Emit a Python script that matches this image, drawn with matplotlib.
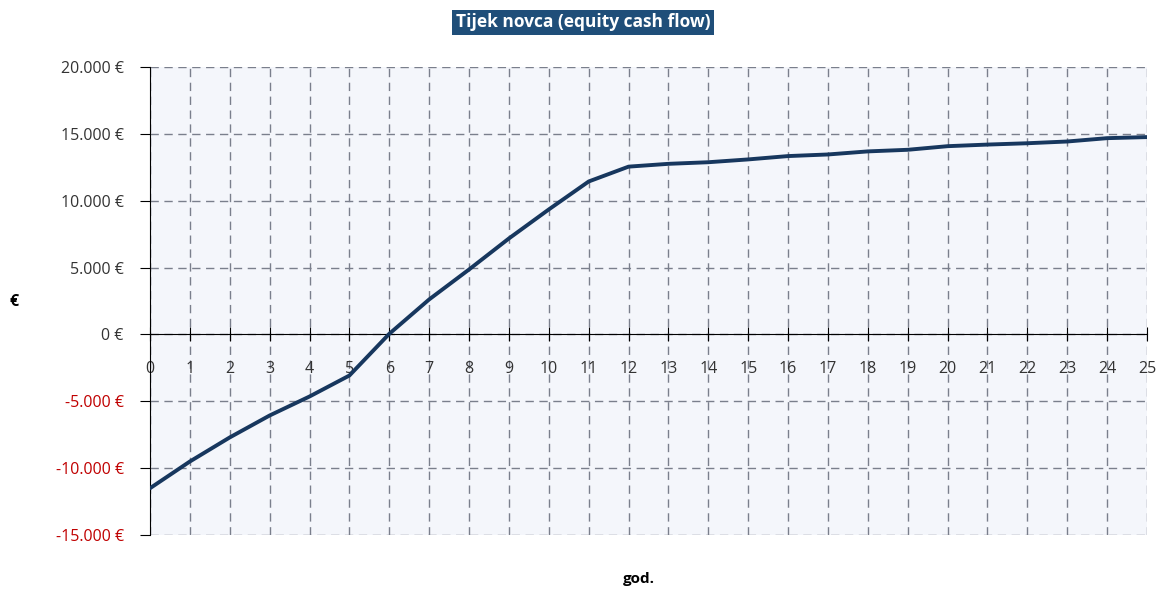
import matplotlib.pyplot as plt
from matplotlib.ticker import FuncFormatter

plt.rcParams["font.family"] = ["Open Sans", "DejaVu Sans"]

# podaci
godine = list(range(0, 26))
tijek_novca = [-11500, -9500, -7700, -6060, -4640, -3070, 50, 2620, 4860, 7180,
               9350, 11440, 12550, 12760, 12880, 13090, 13340, 13460, 13690, 13810,
               14080, 14200, 14300, 14430, 14680, 14760]
y_ticks = [-15000, -10000, -5000, 0, 5000, 10000, 15000, 20000]


def euro(v, pos=None):
    s = f"{int(v):,}".replace(",", ".")
    return f"{s} €"


fig = plt.figure(figsize=(11.64, 5.9), dpi=100)
ax = fig.add_axes([0.1289, 0.0932, 0.8565, 0.7932])
ax.set_facecolor("#f4f6fb")

ax.plot(godine, tijek_novca, color="#17375e", lw=2.8, solid_capstyle="round", zorder=5)

ax.set_xlim(0, 25)
ax.set_ylim(-15000, 20000)
ax.set_xticks(godine)
ax.set_yticks(y_ticks)
ax.yaxis.set_major_formatter(FuncFormatter(euro))

ax.grid(True, color="#7a7f8c", linestyle=(0, (6, 4)), lw=1.0)
ax.set_axisbelow(True)

for s in ["top", "right"]:
    ax.spines[s].set_visible(False)
ax.spines["bottom"].set_position(("data", 0))
ax.spines["bottom"].set_color("black")
ax.spines["left"].set_color("black")

ax.tick_params(axis="x", direction="inout", length=10, pad=14, labelsize=11.5, colors="black",
               labelcolor="#333333")
ax.tick_params(axis="y", direction="out", length=7, labelsize=11.5, labelcolor="#333333", pad=12)
for lbl, v in zip(ax.get_yticklabels(), y_ticks):
    if v < 0:
        lbl.set_color("#c00000")

ax.set_xlabel("god.", fontsize=11, fontweight="bold", labelpad=0)
ax.xaxis.set_label_coords(0.49, -0.078)
ax.set_ylabel("€", fontsize=11.5, fontweight="bold", rotation=0, labelpad=0)
ax.yaxis.set_label_coords(-0.136, 0.48)

fig.text(0.501, 0.962, "Tijek novca (equity cash flow)", ha="center", va="center",
         fontsize=12.5, fontweight="bold", color="white",
         bbox=dict(boxstyle="square,pad=0.2", fc="#1f4e79", ec="none"))

plt.savefig("out.png", dpi=100)
